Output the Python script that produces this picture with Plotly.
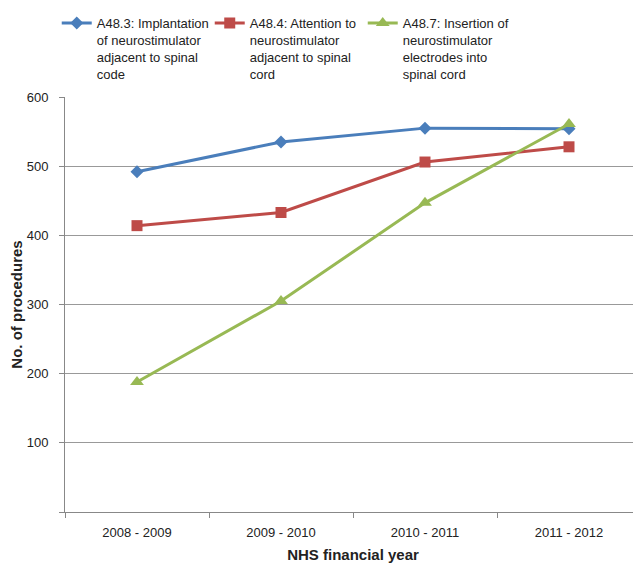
import plotly.graph_objects as go

years = ["2008 - 2009", "2009 - 2010", "2010 - 2011", "2011 - 2012"]
a48_3 = [492, 535, 555, 554]
a48_4 = [414, 433, 506, 528]
a48_7 = [188, 305, 447, 561]

names = [
    "A48.3: Implantation<br>of neurostimulator<br>adjacent to spinal<br>code",
    "A48.4: Attention to<br>neurostimulator<br>adjacent to spinal<br>cord",
    "A48.7: Insertion of<br>neurostimulator<br>electrodes into<br>spinal cord",
]
colors = ["#4A7EBB", "#BE4B48", "#98B954"]
symbols = ["diamond", "square", "triangle-up"]
sizes = [10, 11, 12]
series = [a48_3, a48_4, a48_7]

fig = go.Figure()
for nm, vals, c, s, sz in zip(names, series, colors, symbols, sizes):
    fig.add_trace(go.Scatter(
        x=years, y=vals, name=nm, mode="lines+markers",
        line=dict(color=c, width=3),
        marker=dict(symbol=s, size=sz, color=c),
    ))

# page body has an 8px default margin; figure sized to fit the 641x566 window
fig.update_layout(
    width=633, height=558,
    margin=dict(l=57, r=0, t=89, b=54),
    paper_bgcolor="white", plot_bgcolor="white",
    font=dict(family="Liberation Sans, Arial, sans-serif", color="#222", size=13),
    showlegend=True,
    legend=dict(
        orientation="h", xref="container", yref="container",
        x=0.077, y=1.0, xanchor="left", yanchor="top",
        font=dict(size=13, color="#222"),
        entrywidth=108, entrywidthmode="pixels",
        valign="top", itemwidth=30, tracegroupgap=0,
        bgcolor="rgba(0,0,0,0)",
    ),
    xaxis=dict(
        type="category", tickson="boundaries", ticks="outside", ticklen=5,
        tickcolor="#888", showline=True, linecolor="#888", linewidth=1,
        showgrid=False, tickfont=dict(size=13), ticklabelstandoff=8,
        title=dict(text="<b>NHS financial year</b>", font=dict(size=15), standoff=10),
        range=[-0.5, 3.5], automargin=False,
    ),
    yaxis=dict(
        range=[0, 600], tickvals=[0, 100, 200, 300, 400, 500, 600],
        ticktext=["", "100", "200", "300", "400", "500", "600"],
        ticks="outside", ticklen=5, tickcolor="#888",
        showline=True, linecolor="#888", linewidth=1,
        showgrid=True, gridcolor="#999", gridwidth=1, zeroline=False,
        tickfont=dict(size=13), ticklabelstandoff=8,
        title=dict(text="<b>No. of procedures</b>", font=dict(size=15), standoff=27),
        automargin=False,
    ),
)

fig.write_html("out.html")
